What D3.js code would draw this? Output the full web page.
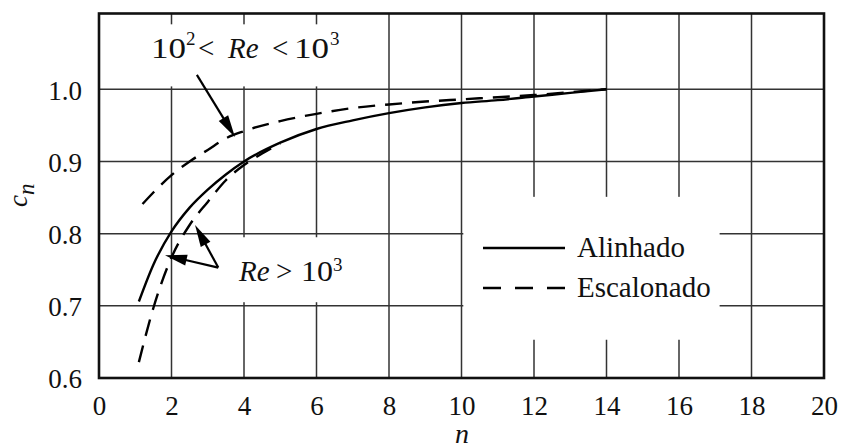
<!DOCTYPE html>
<html>
<head>
<meta charset="utf-8">
<script src="https://cdn.jsdelivr.net/npm/d3@7"></script>
<style>
  body { margin: 0; background: #fff; }
  text { font-family: "Liberation Serif", "Times New Roman", serif; fill: #111; }
</style>
</head>
<body>
<div id="chart"></div>
<script>
// data
let xTicks = [0, 2, 4, 6, 8, 10, 12, 14, 16, 18, 20];
let yTicks = [0.6, 0.7, 0.8, 0.9, 1.0];
let yTickLabels = ["0.6", "0.7", "0.8", "0.9", "1.0"];

// Alinhado (solid)
let nAlinhado = [1.1, 1.5, 2, 2.5, 3, 3.5, 4, 5, 6, 7, 8, 9, 10, 11, 12, 13, 14];
let cAlinhado = [0.706, 0.757, 0.803, 0.836, 0.861, 0.882, 0.900, 0.926, 0.945, 0.957, 0.967, 0.975, 0.981, 0.985, 0.990, 0.995, 1.0];

// Escalonado, 10^2 < Re < 10^3 (dashed, upper)
let nEscBaixo = [1.2, 1.5, 2, 2.5, 3, 3.5, 4, 5, 6, 7, 8, 9, 10, 11, 12, 13, 14];
let cEscBaixo = [0.841, 0.857, 0.881, 0.900, 0.916, 0.932, 0.942, 0.956, 0.966, 0.974, 0.979, 0.983, 0.986, 0.989, 0.992, 0.996, 1.0];

// Escalonado, Re > 10^3 (dashed, lower)
let nEscAlto = [1.1, 1.5, 2, 2.5, 3, 3.5, 4, 4.5, 5];
let cEscAlto = [0.622, 0.697, 0.767, 0.812, 0.844, 0.874, 0.895, 0.911, 0.925];

let legendLabels = ["Alinhado", "Escalonado"];

let width = 842, height = 448;
let x = d3.scaleLinear().domain([0, 20]).range([99, 824]);
let y = d3.scaleLinear().domain([0.6, 1.105]).range([378, 13.5]);

let svg = d3.select("#chart").append("svg")
  .attr("width", width).attr("height", height);

// grid
let grid = svg.append("g").attr("stroke", "#333").attr("stroke-width", 1.5);
grid.selectAll("line.v")
  .data(xTicks.slice(1, -1))
  .enter().append("line")
  .attr("x1", d => x(d)).attr("x2", d => x(d))
  .attr("y1", y(1.105)).attr("y2", y(0.6));
grid.selectAll("line.h")
  .data(yTicks.slice(1))
  .enter().append("line")
  .attr("x1", x(0)).attr("x2", x(20))
  .attr("y1", d => y(d)).attr("y2", d => y(d));

// white patches where the labels sit
let patches = [
  [1.2, 6.7, 1.09, 1.004],
  [2.2, 7.8, 0.795, 0.705],
  [10.05, 17.12, 0.851, 0.653]
];
svg.append("g").selectAll("rect")
  .data(patches)
  .enter().append("rect")
  .attr("x", d => x(d[0])).attr("width", d => x(d[1]) - x(d[0]))
  .attr("y", d => y(d[2])).attr("height", d => y(d[3]) - y(d[2]))
  .attr("fill", "#fff");

// curves
let line = d3.line().curve(d3.curveMonotoneX).x(d => x(d[0])).y(d => y(d[1]));
let series = [
  { n: nAlinhado, c: cAlinhado, dash: null },
  { n: nEscBaixo, c: cEscBaixo, dash: "17,10" },
  { n: nEscAlto, c: cEscAlto, dash: "17,10" }
];
svg.append("g").selectAll("path")
  .data(series)
  .enter().append("path")
  .attr("d", s => line(s.n.map((v, i) => [v, s.c[i]])))
  .attr("fill", "none")
  .attr("stroke", "#000")
  .attr("stroke-width", 2.4)
  .attr("stroke-dasharray", s => s.dash);

// border
svg.append("rect")
  .attr("x", x(0)).attr("y", y(1.105))
  .attr("width", x(20) - x(0)).attr("height", y(0.6) - y(1.105))
  .attr("fill", "none").attr("stroke", "#111").attr("stroke-width", 2.6);

// tick labels
let xAxis = svg.append("g")
  .attr("transform", `translate(0,${y(0.6)})`)
  .call(d3.axisBottom(x).tickValues(xTicks).tickSize(0).tickPadding(0).tickFormat(d3.format("d")));
xAxis.select(".domain").remove();
xAxis.selectAll("text")
  .attr("y", 37).attr("dy", null)
  .style("font-size", "27px").style("font-family", "Liberation Serif, serif").attr("fill", "#111");

let yAxis = svg.append("g")
  .attr("transform", `translate(${x(0)},0)`)
  .call(d3.axisLeft(y).tickValues(yTicks).tickSize(0).tickPadding(17).tickFormat((d, i) => yTickLabels[i]));
yAxis.select(".domain").remove();
yAxis.selectAll("text")
  .attr("dy", "0.36em")
  .style("font-size", "27px").style("font-family", "Liberation Serif, serif").attr("fill", "#111");

// axis titles
svg.append("text")
  .attr("x", 462).attr("y", 443)
  .attr("text-anchor", "middle")
  .style("font-size", "28px").style("font-style", "italic")
  .text("n");

let yt = svg.append("text")
  .attr("transform", "translate(27,207) rotate(-90)")
  .style("font-size", "27px").style("font-style", "italic");
yt.append("tspan").text("c");
yt.append("tspan").attr("dy", 7).style("font-size", "23px").text("n");

// legend
let legend = svg.append("g");
legendLabels.forEach((lab, i) => {
  let ly = 248 + i * 40;
  legend.append("line")
    .attr("x1", 483).attr("x2", 565)
    .attr("y1", ly).attr("y2", ly)
    .attr("stroke", "#000").attr("stroke-width", 2.4)
    .attr("stroke-dasharray", i === 0 ? null : "18,14");
  legend.append("text")
    .attr("x", 577).attr("y", ly + 9)
    .style("font-size", "29px")
    .text(lab);
});

// annotations: arrows
function arrow(g, from, to) {
  let x0 = x(from[0]), y0 = y(from[1]), x1 = x(to[0]), y1 = y(to[1]);
  let dx = x1 - x0, dy = y1 - y0, len = Math.hypot(dx, dy);
  let ux = dx / len, uy = dy / len, L = 22, w = 5.5;
  let bx = x1 - ux * L, by = y1 - uy * L;
  g.append("line")
    .attr("x1", x0).attr("y1", y0).attr("x2", bx + ux * 2).attr("y2", by + uy * 2)
    .attr("stroke", "#000").attr("stroke-width", 2.2);
  g.append("path")
    .attr("d", `M${x1},${y1}L${bx - uy * w},${by + ux * w}L${bx + uy * w},${by - ux * w}Z`)
    .attr("fill", "#000");
}
let arrows = svg.append("g");
arrow(arrows, [2.70, 1.02], [3.75, 0.934]);
arrow(arrows, [3.29, 0.753], [1.82, 0.770]);
arrow(arrows, [3.29, 0.753], [2.65, 0.812]);

// annotation texts
let t1 = svg.append("text").style("font-size", "29px");
t1.append("tspan").attr("x", 151).attr("y", 58).attr("textLength", 35).attr("lengthAdjust", "spacingAndGlyphs").text("10");
t1.append("tspan").attr("x", 186).attr("y", 45).style("font-size", "19px").text("2");
t1.append("tspan").attr("x", 198).attr("y", 58).text("<");
t1.append("tspan").attr("x", 228).attr("y", 58).style("font-style", "italic").text("Re");
t1.append("tspan").attr("x", 272).attr("y", 58).text("<");
t1.append("tspan").attr("x", 294).attr("y", 58).attr("textLength", 35).attr("lengthAdjust", "spacingAndGlyphs").text("10");
t1.append("tspan").attr("x", 330).attr("y", 45).style("font-size", "19px").text("3");

let t2 = svg.append("text").style("font-size", "29px");
t2.append("tspan").attr("x", 239).attr("y", 281).style("font-style", "italic").text("Re");
t2.append("tspan").attr("x", 276).attr("y", 281).text(">");
t2.append("tspan").attr("x", 301).attr("y", 281).attr("textLength", 32).attr("lengthAdjust", "spacingAndGlyphs").text("10");
t2.append("tspan").attr("x", 333).attr("y", 271).style("font-size", "19px").text("3");
</script>
</body>
</html>
